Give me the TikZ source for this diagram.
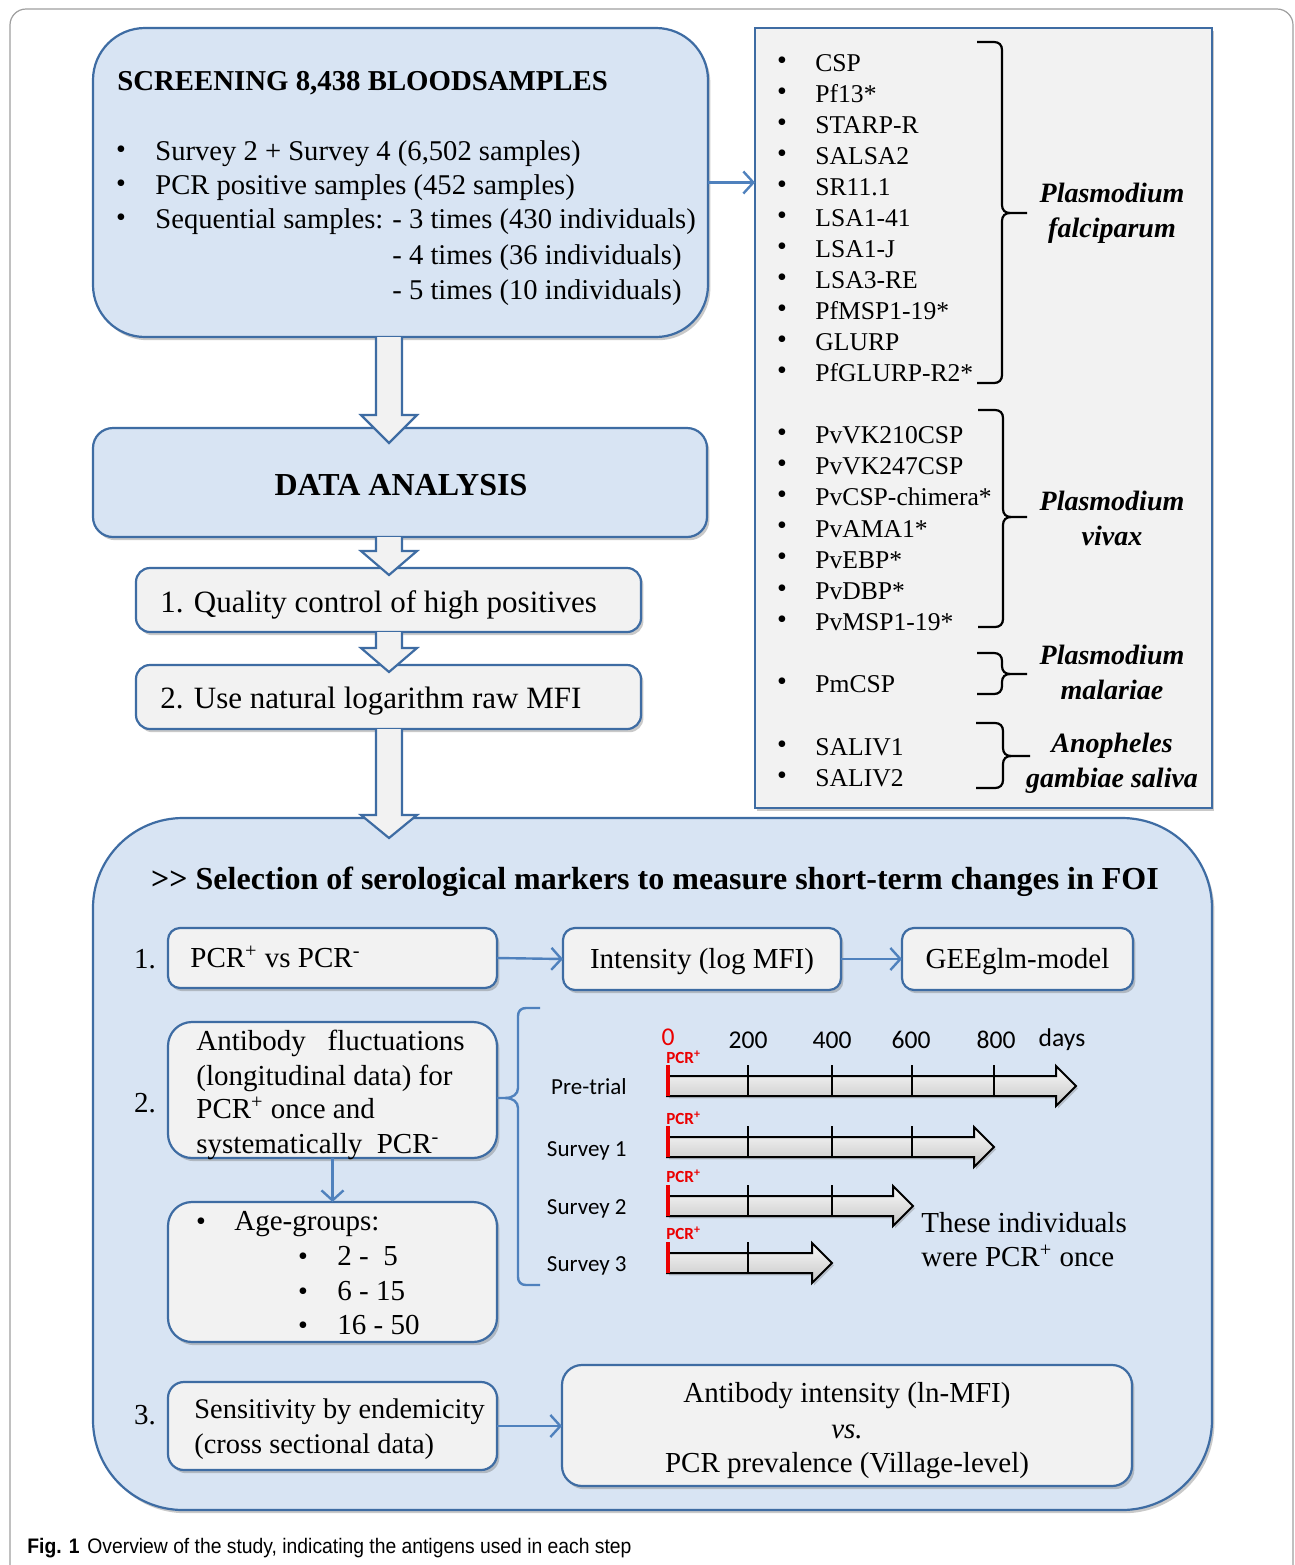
\documentclass[tikz,border=0pt]{standalone}
\usepackage{fontspec}
\setmainfont{Liberation Serif}
\newfontfamily\calfont{Carlito}
\newfontfamily\capfont[FakeStretch=0.92]{Liberation Sans}
\usetikzlibrary{arrows.meta,shadows,fit,calc}
\definecolor{bblue}{RGB}{62,108,163}
\definecolor{lblue}{RGB}{216,228,243}
\definecolor{gfill}{RGB}{242,242,242}
\definecolor{abl}{RGB}{79,129,189}
\definecolor{pcrred}{RGB}{235,0,0}
\tikzset{
  shad/.style={drop shadow={shadow xshift=1.2pt,shadow yshift=-1.6pt,opacity=0.35,fill=black!60}},
  fitbox/.style={fit={#1}, inner sep=0pt, outer sep=0pt, draw=bblue, line width=1.1pt, shad},
  bluebox/.style={fitbox={#1}, fill=lblue},
  graybox/.style={fitbox={#1}, fill=gfill},
  tx/.style={anchor=mid west, inner sep=0pt, yshift=-2pt, font=\fontsize{14.3}{17}\selectfont},
  btx/.style={anchor=mid west, inner sep=0pt, yshift=-2pt, font=\fontsize{14.5}{17}\selectfont},
  ctx/.style={inner sep=0pt, yshift=-1.5pt, font=\fontsize{14.5}{17}\selectfont},
  num/.style={inner sep=0pt, font=\fontsize{14.5}{17}\selectfont},
  bul/.style={inner sep=0pt, font=\fontsize{14}{17}\selectfont},
  ptx/.style={anchor=mid west, inner sep=0pt, yshift=-2pt, font=\fontsize{12.8}{15}\selectfont},
  pbul/.style={inner sep=0pt, font=\fontsize{14}{15}\selectfont},
  spec/.style={inner sep=0pt, align=center, yshift=-1pt, font=\fontsize{14}{17.5}\selectfont\bfseries\itshape},
  barrow/.style={fill=gfill, draw=bblue, line width=1.1pt, line join=miter},
  tarrow/.style={draw=abl, line width=1.2pt, -{Straight Barb[length=5pt,width=11pt]}},
  brc/.style={line width=1.1pt, black},
  tlarrow/.style={top color=gray!4, bottom color=gray!45, draw=black, line width=1pt, line join=miter,
     drop shadow={shadow xshift=1pt,shadow yshift=-1.2pt,opacity=0.3,fill=black!60}},
  tick/.style={line width=1.3pt, black},
  redl/.style={line width=1.6pt, pcrred},
  tll/.style={anchor=mid east, inner sep=0pt, yshift=-2pt, font=\calfont\fontsize{11.5}{13}\selectfont},
  axl/.style={inner sep=0pt, font=\calfont\fontsize{12.8}{15}\selectfont},
  pcr/.style={anchor=mid west, inner sep=0pt, text=pcrred, font=\calfont\bfseries\fontsize{8.5}{10}\selectfont},
}
\newcommand\barr[4]{%
  \draw[barrow] ($(#1.south -| ax)+(-13,0)$) -- ($(#2.north -| ax)+(-13,#3)$) -- ($(#2.north -| ax)+(-28,#3)$)
    -- ($(#2.north -| ax)+(0,#4)$) -- ($(#2.north -| ax)+(28,#3)$) -- ($(#2.north -| ax)+(13,#3)$)
    -- ($(#1.south -| ax)+(13,0)$);}
% brace: ytop ytip ybot xleft xvert xtip
\newcommand\sbrace[6]{%
  \draw[brc] (#4,#1) -- (#5-8,#1) .. controls (#5-3,#1) and (#5,#1+3) .. (#5,#1+8)
    -- (#5,#2-8) .. controls (#5,#2-3) and (#5+3,#2) .. (#5+8,#2) -- (#6,#2);
  \draw[brc] (#5+8,#2) .. controls (#5+3,#2) and (#5,#2+3) .. (#5,#2+8)
    -- (#5,#3-8) .. controls (#5,#3-3) and (#5-3,#3) .. (#5-8,#3) -- (#4,#3);}
% timeline arrow: ycenter, tip x
\newcommand\tlarr[2]{%
  \draw[tlarrow] (667,#1-10) -- (#2-20,#1-10) -- (#2-20,#1-20) -- (#2,#1) -- (#2-20,#1+20) -- (#2-20,#1+10) -- (667,#1+10) -- cycle;}
\begin{document}
\begin{tikzpicture}[x=0.5pt,y=-0.5pt]
\useasboundingbox (0,0) rectangle (1295,1565);
\clip (0,0) rectangle (1295,1565);
\fill[white] (0,0) rectangle (1295,1565);
\draw[gray!75, line width=0.6pt, rounded corners=8pt] (10,9) rectangle (1293,1600);
\coordinate (ax) at (389,0);

% ---------- top box ----------
\node[bluebox={(93,28) (708,337)}, rounded corners=26pt] (top) {};
\node[tx, font=\fontsize{14.4}{17}\selectfont\bfseries] (toptitle) at (117,82) {SCREENING 8,438 BLOODSAMPLES};
\node[bul] (tb1) at (121,152) {\textbullet};
\node[tx] (tl1) at (155,152) {Survey 2 + Survey 4 (6,502 samples)};
\node[bul] (tb2) at (121,186) {\textbullet};
\node[tx] (tl2) at (155,186) {PCR positive samples (452 samples)};
\node[bul] (tb3) at (121,220) {\textbullet};
\node[tx] (tl3) at (155,220) {Sequential samples:};
\node[tx] (tl4) at (392,220) {- 3 times (430 individuals)};
\node[tx] (tl5) at (392,256) {- 4 times (36 individuals)};
\node[tx] (tl6) at (392,291) {- 5 times (10 individuals)};

% ---------- right panel ----------
\node[graybox={(755,28) (1212,808)}] (panel) {};
\foreach \t [count=\i] in {CSP,Pf13*,STARP-R,SALSA2,SR11.1,LSA1-41,LSA1-J,LSA3-RE,PfMSP1-19*,GLURP,PfGLURP-R2*}{
  \pgfmathsetmacro\yy{63+31*(\i-1)}
  \node[pbul] (pfb\i) at (782,\yy) {\textbullet};
  \node[ptx] (pf\i) at (815,\yy) {\t};
}
\foreach \t [count=\i] in {PvVK210CSP,PvVK247CSP,PvCSP-chimera*,PvAMA1*,PvEBP*,PvDBP*,PvMSP1-19*}{
  \pgfmathsetmacro\yy{435+31.15*(\i-1)}
  \node[pbul] (pvb\i) at (782,\yy) {\textbullet};
  \node[ptx] (pv\i) at (815,\yy) {\t};
}
\node[pbul] (pmb) at (782,684) {\textbullet};
\node[ptx] (pm) at (815,684) {PmCSP};
\node[pbul] (sab1) at (782,747) {\textbullet};
\node[ptx] (sa1) at (815,747) {SALIV1};
\node[pbul] (sab2) at (782,778) {\textbullet};
\node[ptx] (sa2) at (815,778) {SALIV2};

\sbrace{42}{213}{383}{977}{1002}{1027}
\sbrace{410}{517}{627}{978}{1003}{1027}
\sbrace{653}{674}{694}{977}{1002}{1027}
\sbrace{723}{756}{788}{976}{1003}{1030}
\node[spec] (sp1) at (1112,211) {Plasmodium\\falciparum};
\node[spec] (sp2) at (1112,516) {Plasmodium\\vivax};
\node[spec] (sp3) at (1112,670) {Plasmodium\\malariae};
\node[spec] (sp4) at (1112,761) {Anopheles\\gambiae saliva};

\draw[tarrow] (top.east) -- (top.east -| panel.west);

% ---------- data analysis ----------
\node[bluebox={(93,428) (707,537)}, rounded corners=10pt] (da) {};
\node[inner sep=0pt, font=\fontsize{16}{18}\selectfont\bfseries] (datxt) at (401,485) {DATA ANALYSIS};
\node[graybox={(136,568) (641,632)}, rounded corners=7pt] (qc) {};
\node[tx, yshift=-1pt, font=\fontsize{15.5}{18}\selectfont] (qctxt) at (160,602) {1. Quality control of high positives};
\node[graybox={(136,665) (641,729)}, rounded corners=7pt] (un) {};
\node[tx, yshift=-1pt, font=\fontsize{15.5}{18}\selectfont] (untxt) at (160,698) {2. Use natural logarithm raw MFI};

% ---------- selection box ----------
\node[bluebox={(93,818) (1212,1510)}, rounded corners=45pt] (sel) {};
\node[inner sep=0pt, yshift=-1pt, font=\fontsize{16}{18}\selectfont\bfseries] (seltitle) at (655,880) {>{}> Selection of serological markers to measure short-term changes in FOI};

\node[num] (n1) at (145,959) {1.};
\node[graybox={(168,928) (497,988)}, rounded corners=6pt] (b1a) {};
\node[btx] (b1atxt) at (190,959) {PCR\textsuperscript{+} vs PCR\textsuperscript{-}};
\node[graybox={(563,928) (841,990)}, rounded corners=6pt] (b1b) {};
\node[ctx] (b1btxt) at (b1b) {Intensity (log MFI)};
\node[graybox={(902,928) (1133,990)}, rounded corners=6pt] (b1c) {};
\node[ctx] (b1ctxt) at (b1c) {GEEglm-model};
\draw[tarrow] (b1a.east) -- (b1b.west);
\draw[tarrow] (b1b.east) -- (b1c.west);

\node[num] (n2) at (145,1103) {2.};
\node[graybox={(168,1022) (497,1158)}, rounded corners=12pt] (ab) {};
\node[btx] (ab1) at (196,1042) {Antibody\ \ \ fluctuations};
\node[btx] (ab2) at (196,1077) {(longitudinal data) for};
\node[btx] (ab3) at (196,1110) {PCR\textsuperscript{+} once and};
\node[btx] (ab4) at (196,1145) {systematically\ \ PCR\textsuperscript{-}};
\node[graybox={(168,1202) (497,1342)}, rounded corners=12pt] (ag) {};
\node[bul] (agb) at (201,1224) {\textbullet};
\node[btx] (ag0) at (234,1222) {Age-groups:};
\node[bul] (agb1) at (303,1259) {\textbullet};
\node[btx] (ag1) at (337,1257) {2 -\ \ 5};
\node[bul] (agb2) at (303,1294) {\textbullet};
\node[btx] (ag2) at (337,1292) {6 - 15};
\node[bul] (agb3) at (303,1328) {\textbullet};
\node[btx] (ag3) at (337,1326) {16 - 50};
\draw[tarrow] (ab.south) -- (ag.north);

% blue brace to timelines
\coordinate (brtip) at ($(ab.east)+(0,8)$);
\draw[abl, line width=1.2pt] (540,1008) -- (526,1008) .. controls (521,1008) and (518,1011) .. (518,1016)
  -- (518,1088) .. controls (518,1094) and (513,1098) .. (505,1098) -- (brtip);
\draw[abl, line width=1.2pt] (505,1098) .. controls (513,1098) and (518,1102) .. (518,1108)
  -- (518,1277) .. controls (518,1282) and (521,1285) .. (526,1285) -- (540,1285);

% timelines
\node[axl, text=pcrred] (d0) at (668,1037) {0};
\node[axl] (d200) at (748,1040) {200};
\node[axl] (d400) at (832,1040) {400};
\node[axl] (d600) at (911,1040) {600};
\node[axl] (d800) at (996,1040) {800};
\node[axl] (ddays) at (1062,1040) {days};

\tlarr{1086}{1076}
\foreach \x in {748,832,912,994} \draw[tick] (\x,1065) -- (\x,1096);
\draw[redl] (668,1065) -- (668,1096);
\tlarr{1147}{994}
\foreach \x in {748,832,912} \draw[tick] (\x,1126) -- (\x,1157);
\draw[redl] (668,1126) -- (668,1157);
\tlarr{1206}{913}
\foreach \x in {748,832} \draw[tick] (\x,1185) -- (\x,1216);
\draw[redl] (668,1185) -- (668,1216);
\tlarr{1263}{832}
\draw[tick] (748,1242) -- (748,1273);
\draw[redl] (668,1242) -- (668,1273);

\node[pcr] (p0) at (666,1059) {PCR\textsuperscript{+}};
\node[pcr] (p1) at (666,1120) {PCR\textsuperscript{+}};
\node[pcr] (p2) at (666,1178) {PCR\textsuperscript{+}};
\node[pcr] (p3) at (666,1235) {PCR\textsuperscript{+}};

\node[tll] (l0) at (627,1086) {Pre-trial};
\node[tll] (l1) at (627,1148) {Survey 1};
\node[tll] (l2) at (627,1206) {Survey 2};
\node[tll] (l3) at (627,1263) {Survey 3};

\node[btx] (ti1) at (921,1224) {These individuals};
\node[btx] (ti2) at (921,1258) {were PCR\textsuperscript{+} once};

\node[num] (n3) at (145,1415) {3.};
\node[graybox={(168,1382) (497,1470)}, rounded corners=8pt] (sn) {};
\node[btx, font=\fontsize{14.2}{17}\selectfont] (sn1) at (194,1410) {Sensitivity by endemicity};
\node[btx, font=\fontsize{14.2}{17}\selectfont] (sn2) at (194,1445) {(cross sectional data)};
\node[graybox={(562,1365) (1132,1486)}, rounded corners=10pt] (rs) {};
\node[ctx] (rs1) at (847,1393) {Antibody intensity (ln-MFI)};
\node[ctx, font=\fontsize{14.5}{17}\selectfont\itshape] (rs2) at (847,1429) {vs.};
\node[ctx] (rs3) at (847,1463) {PCR prevalence (Village-level)};
\draw[tarrow] (sn.east) -- (sn.east -| rs.west);

% block arrows
\barr{top}{da}{-13}{15}
\barr{da}{qc}{-17}{7}
\barr{qc}{un}{-17}{7}
\barr{un}{sel}{-3}{20}

% caption
\node[tx, yshift=0pt, font=\capfont\bfseries\fontsize{10.5}{12}\selectfont] (figl) at (27,1545) {Fig. 1};
\node[tx, yshift=0pt, font=\capfont\fontsize{10.5}{12}\selectfont] (figc) at (87,1545) {Overview of the study, indicating the antigens used in each step};
\end{tikzpicture}
\end{document}
